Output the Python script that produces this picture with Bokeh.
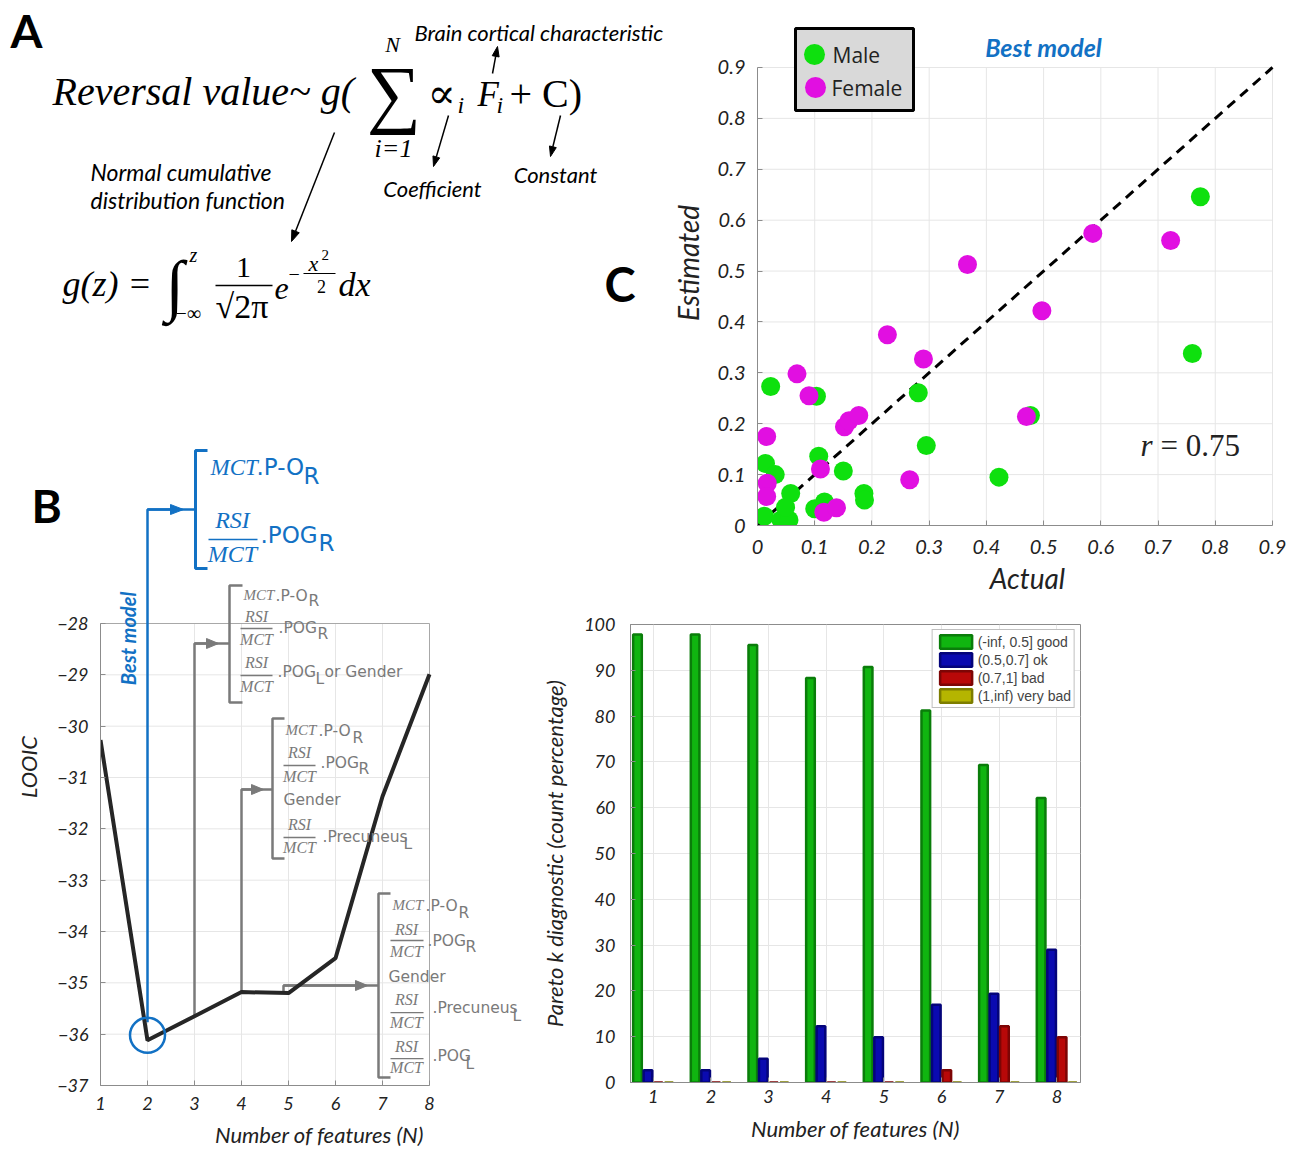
import math
from bokeh.plotting import figure
from bokeh.models import (Range1d, Label, FixedTicker, Legend, LegendItem, ColumnDataSource)
from bokeh.transform import dodge
from bokeh.layouts import row, column
from bokeh.embed import file_html
from bokeh.resources import INLINE

# ---------------- data ----------------
N_FEATURES = [1, 2, 3, 4, 5, 6, 7, 8]
LOOIC = [-30.27, -36.12, -35.65, -35.18, -35.20, -34.52, -31.37, -28.99]
LOOIC_TICKS = [-37, -36, -35, -34, -33, -32, -31, -30, -29, -28]
BEST_INDEX = 1

MALE_ACTUAL = [0.774, 0.760, 0.023, 0.103, 0.281, 0.295, 0.477, 0.422, 0.107, 0.150, 0.014,
               0.031, 0.058, 0.186, 0.187, 0.012, 0.041, 0.055, 0.049, 0.100, 0.117]
MALE_ESTIMATED = [0.646, 0.338, 0.273, 0.254, 0.261, 0.157, 0.216, 0.095, 0.136, 0.107, 0.122,
                  0.100, 0.063, 0.063, 0.050, 0.018, 0.011, 0.011, 0.036, 0.033, 0.046]
FEMALE_ACTUAL = [0.069, 0.090, 0.016, 0.017, 0.016, 0.116, 0.138, 0.110, 0.152, 0.160,
                 0.177, 0.227, 0.290, 0.266, 0.367, 0.586, 0.722, 0.497, 0.470]
FEMALE_ESTIMATED = [0.298, 0.255, 0.175, 0.083, 0.057, 0.026, 0.035, 0.111, 0.194, 0.206,
                    0.216, 0.375, 0.327, 0.090, 0.513, 0.574, 0.560, 0.422, 0.214]
SCATTER_TICKS = [0, 0.1, 0.2, 0.3, 0.4, 0.5, 0.6, 0.7, 0.8, 0.9]
R_VALUE = "0.75"

PARETO_LABELS = ["(-inf, 0.5] good", "(0.5,0.7] ok", "(0.7,1] bad", "(1,inf) very bad"]
PARETO_GOOD = [97.8, 97.8, 95.5, 88.3, 90.7, 81.2, 69.3, 62.1]
PARETO_OK = [2.7, 2.7, 5.2, 12.3, 9.9, 17.0, 19.4, 29.0]
PARETO_BAD = [0, 0, 0, 0, 0, 2.7, 12.3, 9.9]
PARETO_VERYBAD = [0, 0, 0, 0, 0, 0, 0, 0]
PARETO_TICKS = [0, 10, 20, 30, 40, 50, 60, 70, 80, 90, 100]

# ---------------- styles ----------------
SER = "Liberation Serif"
SANS = "Lato"
VERD = "DejaVu Sans"
BLUE = "#1271c4"
GRAY = "#7a7a7a"
AXC = "#8c8c8c"
GRIDC = "#e6e6e6"
TXT = "#222222"

# plots sharing a row get equal top/bottom borders, so the borders are set to match
ROW1_H, ROW1_BOTTOM = 608, 83
ROW2_TOP, ROW2_BOTTOM = 16, 72
B_SHIFT = 176


def ident(x, y):
    return x, y


def label(p, conv, px, py, s, size, font=SANS, style="normal", color="black",
          align="left", baseline="alphabetic", angle=0.0):
    """px, py in page pixels; an 'alphabetic' position is converted to a 'middle' one."""
    if baseline == "alphabetic":
        py = py - 0.36 * size
        baseline = "middle"
    x, y = conv(px, py)
    p.add_layout(Label(x=x, y=y, text=s, text_font=font, text_font_size=f"{size}px",
                       text_font_style=style, text_color=color, text_align=align,
                       text_baseline=baseline, angle=angle))


def polyline(p, conv, pts, color, width):
    xs, ys = zip(*[conv(a, b) for a, b in pts])
    p.line(list(xs), list(ys), line_color=color, line_width=width)


def arrow(p, conv, x0, y0, x1, y1, color, width=1.5, head_len=10, head_w=7):
    ux, uy = x1 - x0, y1 - y0
    d = math.hypot(ux, uy)
    ux, uy = ux / d, uy / d
    bxp, byp = x1 - head_len * ux, y1 - head_len * uy
    nx, ny = -uy, ux
    polyline(p, conv, [(x0, y0), (bxp, byp)], color, width)
    pts = [(x1, y1), (bxp + nx * head_w / 2, byp + ny * head_w / 2), (bxp - nx * head_w / 2, byp - ny * head_w / 2)]
    xs, ys = zip(*[conv(a, b) for a, b in pts])
    p.patch(list(xs), list(ys), fill_color=color, line_color=color, line_width=1)


def style_axes(p, tick_size, label_size):
    for ax in p.axis:
        ax.major_label_text_font = SANS
        ax.major_label_text_font_style = "italic"
        ax.major_label_text_font_size = f"{tick_size}px"
        ax.major_label_text_color = TXT
        ax.axis_label_text_font = SANS
        ax.axis_label_text_font_style = "italic"
        ax.axis_label_text_font_size = f"{label_size}px"
        ax.axis_label_text_color = TXT
        ax.axis_line_color = AXC
        ax.major_tick_line_color = AXC
        ax.major_tick_in = 5
        ax.major_tick_out = 0
        ax.minor_tick_line_color = None


# ================= Panel A (formula, free text) =================
A_W = 700
A_FRAME_H = ROW1_H - ROW1_BOTTOM
pA = figure(width=A_W, height=ROW1_H, x_range=Range1d(0, A_W), y_range=Range1d(A_FRAME_H, 0),
            x_axis_type=None, y_axis_type=None, title=None,
            min_border_left=0, min_border_right=0, min_border_top=0, min_border_bottom=ROW1_BOTTOM,
            outline_line_color=None, background_fill_color=None, border_fill_color=None,
            output_backend="svg", toolbar_location=None)

L = lambda *a, **k: label(pA, ident, *a, **k)

L(10, 30, "A", 46, SANS, "bold", baseline="middle")
L(31, 505, "B", 46, SANS, "bold", baseline="middle")
L(604, 283, "C", 47, SANS, "bold", baseline="middle")

L(52, 105, "Reversal value~ g(", 40, SER, "italic")
L(393.5, 92, "\u2211", 76, SER, "normal", align="center", baseline="middle")
L(392, 52, "N", 22, SER, "italic", align="center")
L(393, 157, "i=1", 26, SER, "italic", align="center")
L(427, 108, "\u221d", 42, "DejaVu Serif", "normal")
L(457, 113, "i", 24, SER, "italic")
L(477, 107, "F", 35, SER, "italic")
L(496, 113, "i", 24, SER, "italic")
L(509, 107, "+ C)", 40, SER, "normal")

L(414, 40, "Brain cortical characteristic", 22, SANS, "italic")
arrow(pA, ident, 492, 73, 497, 46, "black", 1.5, 10, 7)
L(432, 196, "Coefficient", 22, SANS, "italic", align="center")
arrow(pA, ident, 448, 115, 433, 166, "black", 1.5, 10, 7)
L(555, 182, "Constant", 22, SANS, "italic", align="center")
arrow(pA, ident, 560, 115, 550, 156, "black", 1.5, 10, 7)
L(90, 180, "Normal cumulative", 23, SANS, "italic")
L(90, 208, "distribution function", 23, SANS, "italic")
arrow(pA, ident, 334, 132, 291, 241, "black", 1.5, 11, 8)

L(62, 296, "g(z) =", 36, SER, "italic")
L(174, 284, "\u222b", 68, SER, "normal", align="center", baseline="middle")
L(189, 262, "z", 20, SER, "italic")
L(175, 320, "\u2212\u221e", 20, SER, "normal")
L(243, 278, "1", 30, SER, "normal", align="center")
pA.line([215, 272], [285, 285], line_color="black", line_width=1.5)
L(215, 318, "\u221a2\u03c0", 34, SER, "normal")
L(274, 300, "e", 32, SER, "italic")
L(288, 281, "\u2212", 20, SER, "normal")
L(308, 271, "x", 22, SER, "italic")
L(321, 260, "2", 15, SER, "normal")
pA.line([303, 335], [273, 273], line_color="black", line_width=1.2)
L(321, 292, "2", 18, SER, "normal", align="center")
L(338, 296, "dx", 34, SER, "italic")

# ================= Panel C (scatter) =================
CX0, CY0, CPX, CPY = 757, 525, 572.2, 508.9


def cx(px):
    return (px - CX0) / CPX


def cy(py):
    return (CY0 - py) / CPY


def cconv(px, py):
    return cx(px), cy(py)


pC = figure(width=637, height=ROW1_H, x_range=Range1d(0, 540 / CPX), y_range=Range1d(0, 525 / CPY),
            title=None, min_border_left=97, min_border_right=0, min_border_top=0,
            min_border_bottom=ROW1_BOTTOM,
            margin=(0, 0, 0, -40), outline_line_color=None,
            background_fill_color=None, border_fill_color=None,
            output_backend="svg", toolbar_location=None)
pC.grid.visible = False
pC.xaxis.ticker = FixedTicker(ticks=SCATTER_TICKS)
pC.yaxis.ticker = FixedTicker(ticks=SCATTER_TICKS)
pC.xaxis.bounds = (SCATTER_TICKS[0], SCATTER_TICKS[-1])
pC.yaxis.bounds = (SCATTER_TICKS[0], SCATTER_TICKS[-1])
pC.xaxis.major_label_overrides = {0: "0"}
pC.yaxis.major_label_overrides = {0: "0"}
pC.xaxis.axis_label = "Actual"
pC.yaxis.axis_label = "Estimated"
style_axes(pC, 20, 28)
pC.xaxis.major_label_standoff = 14
pC.xaxis.axis_label_standoff = 4
pC.yaxis.major_label_standoff = 12
pC.yaxis.axis_label_standoff = 10

lo, hi = SCATTER_TICKS[0], SCATTER_TICKS[-1]
nT = len(SCATTER_TICKS)
pC.segment(x0=SCATTER_TICKS, y0=[lo] * nT, x1=SCATTER_TICKS, y1=[hi] * nT, line_color=GRIDC, line_width=1)
pC.segment(x0=[lo] * nT, y0=SCATTER_TICKS, x1=[hi] * nT, y1=SCATTER_TICKS, line_color=GRIDC, line_width=1)
pC.line([lo, hi], [lo, hi], line_color="black", line_width=3, line_dash="10 7")

GREEN_PT = "#0ee00e"
MAG_PT = "#e10fe1"
pC.scatter(MALE_ACTUAL, MALE_ESTIMATED, size=19, marker="circle", fill_color=GREEN_PT, line_color=None)
pC.scatter(FEMALE_ACTUAL, FEMALE_ESTIMATED, size=19, marker="circle", fill_color=MAG_PT, line_color=None)

# legend box (drawn by hand so the markers keep their plotted size)
pC.quad(left=[cx(795)], right=[cx(913)], top=[cy(28)], bottom=[cy(110)],
        fill_color="#d9d9d9", line_color="black", line_width=3)
pC.scatter([cx(814)], [cy(54)], size=21, marker="circle", fill_color=GREEN_PT, line_color=None)
pC.scatter([cx(815)], [cy(87)], size=21, marker="circle", fill_color=MAG_PT, line_color=None)
label(pC, cconv, 832, 54, "Male", 21, "Open Sans", "normal", TXT, baseline="middle")
label(pC, cconv, 831, 87, "Female", 21, "Open Sans", "normal", TXT, baseline="middle")

label(pC, cconv, 1043, 46, "Best model", 25, SANS, "bold italic", BLUE, align="center", baseline="middle")
label(pC, cconv, 1140, 456, "r", 31, SER, "italic", TXT)
label(pC, cconv, 1160, 456, "= " + R_VALUE, 31, SER, "normal", TXT)

# ================= Panel B (LOOIC) =================
BX0, BY0, BPX, BPY = 100, 623, 47.0, 51.33
B_FRAME_TOP, B_FRAME_BOTTOM = 448, 1085


def bx(px):
    return 1 + (px - BX0) / BPX


def by(py):
    return -28 - (py - BY0) / BPY


def bconv(px, py):
    return bx(px), by(py)


def xpix(xd):
    return BX0 + (xd - 1) * BPX


B_H = ROW2_TOP + (B_FRAME_BOTTOM - B_FRAME_TOP) + ROW2_BOTTOM
pB = figure(width=538, height=B_H, x_range=Range1d(1, 1 + 438 / BPX),
            y_range=Range1d(-37, by(B_FRAME_TOP)), title=None,
            min_border_left=100, min_border_right=0, min_border_top=ROW2_TOP,
            min_border_bottom=ROW2_BOTTOM,
            outline_line_color=None, background_fill_color=None, border_fill_color=None,
            output_backend="svg", toolbar_location=None)
pB.grid.visible = False
pB.xaxis.ticker = FixedTicker(ticks=N_FEATURES)
pB.yaxis.ticker = FixedTicker(ticks=LOOIC_TICKS)
pB.xaxis.bounds = (N_FEATURES[0], N_FEATURES[-1])
pB.yaxis.bounds = (LOOIC_TICKS[0], LOOIC_TICKS[-1])
pB.xaxis.axis_label = "Number of features (N)"
pB.yaxis.axis_label = "LOOIC"
style_axes(pB, 18, 22)
pB.xaxis.major_label_standoff = 11
pB.xaxis.axis_label_standoff = 8
pB.yaxis.major_label_standoff = 12
pB.yaxis.axis_label_standoff = 12

x_lo, x_hi = N_FEATURES[0], N_FEATURES[-1]
y_lo, y_hi = LOOIC_TICKS[0], LOOIC_TICKS[-1]
nN, nL = len(N_FEATURES), len(LOOIC_TICKS)
pB.segment(x0=N_FEATURES, y0=[y_lo] * nN, x1=N_FEATURES, y1=[y_hi] * nN, line_color=GRIDC, line_width=1)
pB.segment(x0=[x_lo] * nL, y0=LOOIC_TICKS, x1=[x_hi] * nL, y1=LOOIC_TICKS, line_color=GRIDC, line_width=1)
pB.quad(left=[x_lo], right=[x_hi], bottom=[y_lo], top=[y_hi], fill_color=None,
        line_color="#a8a8a8", line_width=1)


def txt(s, px, py, size, font, style, color, align="left"):
    label(pB, bconv, px, py, s, size, font, style, color, align=align)


def frac(cxp, y_num, y_bar, y_den, x0, x1, size, color):
    txt("RSI", cxp, y_num, size, SER, "italic", color, "center")
    polyline(pB, bconv, [(x0, y_bar), (x1, y_bar)], color, 1.3)
    txt("MCT", cxp, y_den, size, SER, "italic", color, "center")


# --- best model (blue) ---
xb_best = N_FEATURES[BEST_INDEX]
yb_best = LOOIC[BEST_INDEX]
pB.line([xb_best, xb_best, bx(195)], [yb_best + 0.35, by(509), by(509)], line_color=BLUE, line_width=2.5)
arrow(pB, bconv, xpix(xb_best), 509, 183, 509, BLUE, 2.5, 13, 10)
polyline(pB, bconv, [(207, 450), (195, 450), (195, 568), (207, 568)], BLUE, 3)
txt("MCT", 210, 475, 23, SER, "italic", BLUE)
txt(".P-O", 256, 475, 23, VERD, "normal", BLUE)
txt("R", 303, 484, 23, VERD, "normal", BLUE)
frac(232, 528, 539, 562, 208, 257, 24, BLUE)
txt(".POG", 260, 543, 23, VERD, "normal", BLUE)
txt("R", 318, 551, 23, VERD, "normal", BLUE)
label(pB, bconv, 127, 638, "Best model", 20, SANS, "bold italic", BLUE,
      align="center", baseline="middle", angle=math.pi / 2)

# --- N = 3 ---
GS = 15.5
pB.line([N_FEATURES[2], N_FEATURES[2], bx(229)], [LOOIC[2], by(643), by(643)], line_color=GRAY, line_width=2.5)
arrow(pB, bconv, xpix(N_FEATURES[2]), 643, 218, 643, GRAY, 2.5, 12, 10)
polyline(pB, bconv, [(242, 585), (229, 585), (229, 702), (242, 702)], GRAY, 2.5)
txt("MCT", 243, 600, 15, SER, "italic", GRAY)
txt(".P-O", 275, 601, GS, VERD, "normal", GRAY)
txt("R", 308, 606, GS, VERD, "normal", GRAY)
frac(256, 622, 628, 645, 240, 272, 16, GRAY)
txt(".POG", 278, 633, GS, VERD, "normal", GRAY)
txt("R", 317, 639, GS, VERD, "normal", GRAY)
frac(256, 668, 675, 692, 240, 272, 16, GRAY)
txt(".POG", 277, 677, GS, VERD, "normal", GRAY)
txt("L", 315, 684, GS, VERD, "normal", GRAY)
txt("or Gender", 324, 677, GS, VERD, "normal", GRAY)

# --- N = 4 ---
pB.line([N_FEATURES[3], N_FEATURES[3], bx(272)], [LOOIC[3], by(789), by(789)], line_color=GRAY, line_width=2.5)
arrow(pB, bconv, xpix(N_FEATURES[3]), 789, 263, 789, GRAY, 2.5, 12, 10)
polyline(pB, bconv, [(284, 718), (272, 718), (272, 858), (284, 858)], GRAY, 2.5)
txt("MCT", 285, 735, 15, SER, "italic", GRAY)
txt(".P-O", 318, 736, GS, VERD, "normal", GRAY)
txt("R", 352, 743, GS, VERD, "normal", GRAY)
frac(299, 758, 765, 782, 283, 315, 16, GRAY)
txt(".POG", 320, 768, GS, VERD, "normal", GRAY)
txt("R", 358, 774, GS, VERD, "normal", GRAY)
txt("Gender", 283, 805, GS, VERD, "normal", GRAY)
frac(299, 830, 837, 853, 283, 315, 16, GRAY)
txt(".Precuneus", 322, 842, GS, VERD, "normal", GRAY)
txt("L", 403, 849, GS, VERD, "normal", GRAY)

# --- N = 5 ---
x5 = bx(283)
pB.line([x5, x5, bx(378)], [LOOIC[4], by(985), by(985)], line_color=GRAY, line_width=2.5)
arrow(pB, bconv, 283, 985, 367, 985, GRAY, 2.5, 12, 10)
polyline(pB, bconv, [(390, 893), (378, 893), (378, 1077), (390, 1077)], GRAY, 2.5)
txt("MCT", 392, 910, 15, SER, "italic", GRAY)
txt(".P-O", 425, 911, GS, VERD, "normal", GRAY)
txt("R", 458, 918, GS, VERD, "normal", GRAY)
frac(406, 935, 940, 957, 390, 423, 16, GRAY)
txt(".POG", 427, 946, GS, VERD, "normal", GRAY)
txt("R", 465, 952, GS, VERD, "normal", GRAY)
txt("Gender", 388, 982, GS, VERD, "normal", GRAY)
frac(406, 1005, 1012, 1028, 390, 423, 16, GRAY)
txt(".Precuneus", 432, 1013, GS, VERD, "normal", GRAY)
txt("L", 512, 1021, GS, VERD, "normal", GRAY)
frac(406, 1052, 1058, 1073, 390, 423, 16, GRAY)
txt(".POG", 432, 1061, GS, VERD, "normal", GRAY)
txt("L", 465, 1069, GS, VERD, "normal", GRAY)

# main LOOIC curve and best-model circle
pB.line(N_FEATURES, LOOIC, line_color="#262626", line_width=4)
pB.scatter([xb_best], [yb_best + 0.1], size=35, marker="circle", fill_color=None,
           line_color=BLUE, line_width=2.5)

# ================= Panel D (Pareto k bars) =================
D_H = ROW2_TOP + 458 + ROW2_BOTTOM
pD = figure(width=759, height=D_H, x_range=Range1d(0.606, 8.41), y_range=Range1d(0, 100),
            title=None, min_border_left=88, min_border_right=217, min_border_top=ROW2_TOP,
            min_border_bottom=ROW2_BOTTOM,
            margin=(B_SHIFT, 0, 0, 0),
            outline_line_color=AXC, background_fill_color=None, border_fill_color=None,
            output_backend="svg", toolbar_location=None)
pD.xaxis.ticker = FixedTicker(ticks=N_FEATURES)
pD.yaxis.ticker = FixedTicker(ticks=PARETO_TICKS)
pD.xaxis.axis_label = "Number of features (N)"
pD.yaxis.axis_label = "Pareto k diagnostic (count percentage)"
style_axes(pD, 18, 22)
pD.xaxis.major_label_standoff = 7
pD.xaxis.axis_label_standoff = 9
pD.yaxis.major_label_standoff = 15
pD.yaxis.axis_label_standoff = 13
pD.grid.grid_line_color = GRIDC

srcD = ColumnDataSource(dict(n=N_FEATURES, good=PARETO_GOOD, ok=PARETO_OK,
                             bad=PARETO_BAD, verybad=PARETO_VERYBAD))
fills = ["#10b510", "#0a0ab0", "#b80808", "#b5b500"]
edges = ["#0a7d0a", "#04047a", "#7d0505", "#7d7d00"]
offsets = [-0.273, -0.091, 0.091, 0.273]
items = []
for key, off, fc, ec, lab in zip(["good", "ok", "bad", "verybad"], offsets, fills, edges, PARETO_LABELS):
    r = pD.vbar(x=dodge("n", off, range=pD.x_range), top=key, width=0.15, source=srcD,
                fill_color=fc, line_color=ec, line_width=2.5)
    items.append(LegendItem(label=lab, renderers=[r]))
legD = Legend(items=items, location="top_right", margin=5, padding=3, spacing=1,
              glyph_width=40, glyph_height=17, label_height=17, label_standoff=2,
              label_text_font="Liberation Sans", label_text_font_size="14px",
              border_line_color="#808080", border_line_width=1,
              background_fill_color="white", background_fill_alpha=1.0)
pD.add_layout(legD)

row1 = row(pA, pC, spacing=0)
row2 = row(pB, pD, spacing=0, margin=(-B_SHIFT, 0, 0, 0))
layout = column(row1, row2, spacing=0)
open("out.html", "w").write(file_html(layout, INLINE))
